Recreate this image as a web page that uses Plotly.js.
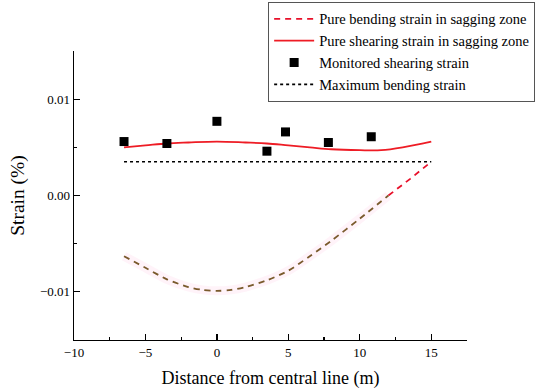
<!DOCTYPE html>
<html>
<head>
<meta charset="utf-8">
<script src="https://cdn.plot.ly/plotly-3.0.1.min.js"></script>
<style>html,body{margin:0;padding:0;background:#fff;}#chart{width:550px;height:392px;}</style>
</head>
<body>
<div id="chart"></div>
<script>
// Data
const bendX = [-6.5,-5,-3.5,-2,-1,0,1,2,3.5,5,6.5,8,10,12,13.5,15];
const bendY = [-0.0063,-0.0075,-0.0087,-0.0095,-0.0098,-0.0099,-0.0098,-0.0095,-0.0088,-0.0078,-0.0063,-0.0047,-0.0024,0.0000,0.0017,0.0035];
const shearX = [-6.5,-5,-3.5,-2,0,2,3.5,5,6.5,8,10,11.5,13,15];
const shearY = [0.0050,0.0052,0.0054,0.0055,0.0056,0.0055,0.0054,0.0052,0.0050,0.0048,0.0047,0.0047,0.0050,0.0056];
const monX = [-6.5,-3.5,0,3.5,4.8,7.8,10.8];
const monY = [0.0056,0.0054,0.0077,0.0046,0.0066,0.0055,0.0061];
const maxX = [-6.5,15];
const maxY = [0.0035,0.0035];
const xTicks = [-10,-5,0,5,10,15];
const yTicks = [-0.01,0,0.01];
const yTickText = ['\u22120.01','0.00','0.01'];

// split bending curve at y = 0 (brown below, red above)
const splitIdx = bendY.findIndex(v => v >= 0);
const bendLowX = bendX.slice(0, splitIdx + 1), bendLowY = bendY.slice(0, splitIdx + 1);
const bendHighX = bendX.slice(splitIdx), bendHighY = bendY.slice(splitIdx);

const traces = [
  {x: bendLowX, y: bendLowY, mode: 'lines', line: {color: 'rgba(255,215,235,0.3)', width: 9, shape: 'spline'}, showlegend: false, hoverinfo: 'skip'},
  {x: bendHighX, y: bendHighY, mode: 'lines', name: 'Pure bending strain in sagging zone', line: {color: '#e8102a', width: 1.8, dash: '6px,5px'}},
  {x: bendLowX, y: bendLowY, mode: 'lines', showlegend: false, line: {color: '#7a5a2c', width: 1.8, dash: '6px,5px', shape: 'spline', smoothing: 0.8}},
  {x: shearX, y: shearY, mode: 'lines', name: 'Pure shearing strain in sagging zone', line: {color: '#ee1c25', width: 1.8, shape: 'spline'}},
  {x: monX, y: monY, mode: 'markers', name: 'Monitored shearing strain', marker: {symbol: 'square', color: '#000', size: 9}},
  {x: maxX, y: maxY, mode: 'lines', name: 'Maximum bending strain', line: {color: '#000', width: 1.6, dash: '3px,3px'}}
];

const font = {family: '"Liberation Serif", "Times New Roman", serif', color: '#000'};
const layout = {
  width: 550, height: 392,
  margin: {l: 74, r: 83, t: 51, b: 52, autoexpand: false},
  paper_bgcolor: '#fff', plot_bgcolor: '#fff',
  font: Object.assign({size: 13}, font),
  showlegend: true,
  legend: {x: 0.494, xanchor: 'left', y: 1.17, yanchor: 'top', xref: 'paper', yref: 'paper',
           bordercolor: '#555', borderwidth: 1, bgcolor: '#fff',
           font: Object.assign({size: 14.5}, font), tracegroupgap: 0, itemwidth: 40},
  xaxis: {
    range: [-10, 17.5], tickvals: xTicks, ticks: 'inside', ticklen: 6, tickwidth: 1.2,
    tickcolor: '#000', showline: true, linecolor: '#000', linewidth: 1.4, showgrid: false, zeroline: false,
    minor: {dtick: 2.5, ticks: 'inside', ticklen: 3, tickcolor: '#000', showgrid: false},
    tickfont: Object.assign({size: 13}, font),
    title: {text: 'Distance from central line (m)', font: Object.assign({size: 18}, font), standoff: 12}
  },
  yaxis: {
    range: [-0.015, 0.015], tickvals: yTicks, ticktext: yTickText, ticks: 'inside', ticklen: 6, tickwidth: 1.2,
    tickcolor: '#000', showline: true, linecolor: '#000', linewidth: 1.4, showgrid: false, zeroline: false,
    minor: {tickvals: [-0.015,-0.005,0.005,0.015], ticks: 'inside', ticklen: 3, tickcolor: '#000', showgrid: false},
    tickfont: Object.assign({size: 13}, font),
    title: {text: 'Strain (%)', font: Object.assign({size: 19.5}, font), standoff: 10}
  }
};
Plotly.newPlot('chart', traces, layout, {displayModeBar: false, staticPlot: true});
</script>
</body>
</html>
